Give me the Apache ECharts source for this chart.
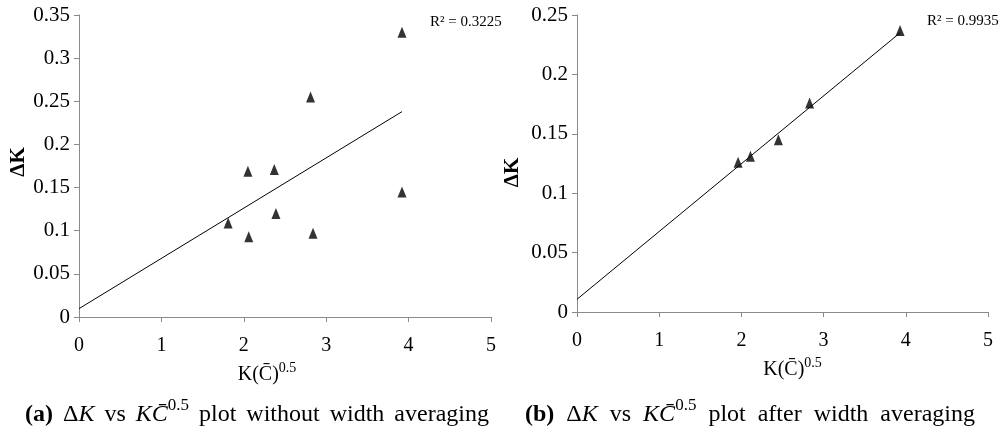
<!DOCTYPE html>
<html><head><meta charset="utf-8">
<script src="https://cdn.jsdelivr.net/npm/echarts@6/dist/echarts.min.js"></script>
<style>html,body{margin:0;padding:0;background:#fff}#c{width:1001px;height:441px}</style>
</head><body><div id="c"></div>
<script>
// ---- data ----
const xMinMax = [0, 5];
const yMaxA = 0.35;
const yMaxB = 0.25;
const xA = [1.81, 2.05, 2.37, 3.92, 2.81, 3.92, 2.39, 2.06, 2.84];
const yA = [0.109, 0.169, 0.171, 0.330, 0.255, 0.145, 0.120, 0.093, 0.097];
const xB = [1.96, 2.11, 2.45, 2.83, 3.93];
const yB = [0.126, 0.131, 0.145, 0.176, 0.237];
const trendXA = [0, 3.92];
const trendYA = [0.0097, 0.238];
const trendXB = [0, 3.93];
const trendYB = [0.0107, 0.235];
const r2A = 'R² = 0.3225';
const r2B = 'R² = 0.9935';
const yName = 'ΔK';
const xName = '{n|K(C\u0304)}{s|0.5}';
const captionA = '{b|(a)}{g| }{t|Δ}{i|K}{g| }{t|vs}{g| }{i|KC\u0304}{s|0.5}{g| }{t|plot}{g| }{t|without}{g| }{t|width}{g| }{t|averaging}';
const captionB = '{b|(b)}{g| }{t|Δ}{i|K}{g| }{t|vs}{g| }{i|KC\u0304}{s|0.5}{g| }{t|plot}{g| }{t|after}{g| }{t|width}{g| }{t|averaging}';

const SERIF = '"Liberation Serif","Times New Roman",serif';
const AX = '#8a8a8a';

function pairs(xs, ys) { return xs.map((x, i) => [x, ys[i]]); }

function xAxisCfg(gi, pad) {
  return {
    type: 'value', gridIndex: gi, min: xMinMax[0], max: xMinMax[1], interval: 1,
    axisLine: {show: true, lineStyle: {color: AX, width: 1}},
    axisTick: {show: true, length: 5, lineStyle: {color: AX}},
    splitLine: {show: false},
    axisLabel: {color: '#000', fontFamily: SERIF, fontSize: 20, margin: 19},
    name: xName, nameLocation: 'middle', nameGap: 40,
    nameTextStyle: {
      padding: pad,
      rich: {
        n: {fontFamily: SERIF, fontSize: 20, color: '#000', lineHeight: 24, verticalAlign: 'bottom'},
        s: {fontFamily: SERIF, fontSize: 14, color: '#000', lineHeight: 24, verticalAlign: 'top'}
      }
    }
  };
}
function yAxisCfg(gi, ymax, gap, pad) {
  return {
    type: 'value', gridIndex: gi, min: 0, max: ymax, interval: 0.05,
    axisLine: {show: true, lineStyle: {color: AX, width: 1}},
    axisTick: {show: true, length: 5, lineStyle: {color: AX}},
    splitLine: {show: false},
    axisLabel: {color: '#000', fontFamily: SERIF, fontSize: 21, margin: 9},
    name: yName, nameLocation: 'middle', nameGap: gap, nameRotate: 90,
    nameTextStyle: {fontFamily: SERIF, fontWeight: 'bold', fontSize: 21, color: '#000', padding: pad}
  };
}
const FS = 24;
function capRich(gap) {
  return {
    b: {fontFamily: SERIF, fontWeight: 'bold', fontSize: FS, color: '#000', lineHeight: 30, verticalAlign: 'bottom'},
    t: {fontFamily: SERIF, fontWeight: 'normal', fontSize: FS, color: '#000', lineHeight: 30, verticalAlign: 'bottom'},
    g: {fontFamily: SERIF, fontWeight: 'normal', fontSize: FS, color: '#000', lineHeight: 30, verticalAlign: 'bottom', width: gap},
    i: {fontFamily: SERIF, fontWeight: 'normal', fontStyle: 'italic', fontSize: FS, color: '#000', lineHeight: 30, verticalAlign: 'bottom'},
    s: {fontFamily: SERIF, fontWeight: 'normal', fontSize: 17, color: '#000', lineHeight: 30, verticalAlign: 'top'}
  };
}

const chart = echarts.init(document.getElementById('c'), null, {renderer: 'canvas'});
chart.setOption({
  backgroundColor: '#fff',
  animation: false,
  title: [
    {text: captionA, left: 20, top: 392, textStyle: {fontWeight: 'normal', rich: capRich(10)}},
    {text: captionB, left: 520, top: 392, textStyle: {fontWeight: 'normal', rich: capRich(12)}}
  ],
  grid: [
    {left: 79, right: 510, top: 15, bottom: 124},
    {left: 577, right: 13, top: 15, bottom: 129}
  ],
  xAxis: [xAxisCfg(0, [0, 36, 0, 0]), xAxisCfg(1, [0, 0, 0, 20])],
  yAxis: [yAxisCfg(0, yMaxA, 50, [0, 0, 0, 8]), yAxisCfg(1, yMaxB, 54, [0, 18, 0, 0])],
  graphic: [
    {type: 'text', left: 430, top: 15, style: {text: r2A, font: '15px ' + SERIF, fill: '#000'}},
    {type: 'text', left: 927, top: 14, style: {text: r2B, font: '15px ' + SERIF, fill: '#000'}}
  ],
  series: [
    {type: 'line', xAxisIndex: 0, yAxisIndex: 0, data: pairs(trendXA, trendYA), showSymbol: false, silent: true,
     lineStyle: {color: '#000', width: 1}},
    {type: 'scatter', xAxisIndex: 0, yAxisIndex: 0, data: pairs(xA, yA), symbol: 'triangle', symbolSize: [9, 11],
     itemStyle: {color: '#000'}},
    {type: 'line', xAxisIndex: 1, yAxisIndex: 1, data: pairs(trendXB, trendYB), showSymbol: false, silent: true,
     lineStyle: {color: '#000', width: 1}},
    {type: 'scatter', xAxisIndex: 1, yAxisIndex: 1, data: pairs(xB, yB), symbol: 'triangle', symbolSize: [9, 11],
     itemStyle: {color: '#000'}}
  ]
});
</script></body></html>
